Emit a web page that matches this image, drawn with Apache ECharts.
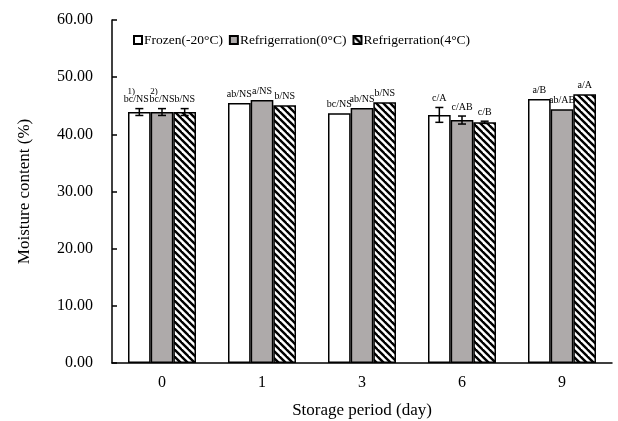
<!DOCTYPE html>
<html><head><meta charset="utf-8">
<script src="https://cdn.jsdelivr.net/npm/echarts@6/dist/echarts.min.js"></script>
<style>html,body{margin:0;padding:0;background:#fff}#c{width:618px;height:421px}</style>
</head><body><div id="c"></div>
<script>
const categories = ['0','1','3','6','9'];
const seriesNames = ['Frozen(-20°C)','Refrigerration(0°C)','Refrigerration(4°C)'];
const frozen = [43.9,45.5,43.7,43.4,46.2];
const ref0   = [43.9,46.0,44.6,42.5,44.4];
const ref4   = [43.9,45.1,45.6,42.1,47.0];
const frozenErr = [0.6,0,0,1.3,0];
const ref0Err   = [0.6,0,0,0.7,0];
const ref4Err   = [0.6,0,0,0.2,0];
const frozenLbl = ['bc/NS','ab/NS','bc/NS','c/A','a/B'];
const ref0Lbl   = ['bc/NS','a/NS','ab/NS','c/AB','ab/AB'];
const ref4Lbl   = ['b/NS','b/NS','b/NS','c/B','a/A'];
const frozenNote = ['1)','','','',''];
const ref0Note   = ['2)','','','',''];
const ref4Note   = ['','','','',''];
const yTicks = [0,10,20,30,40,50,60];

const FONT = '"Liberation Serif","Times New Roman",serif';
const GAP = 0.32;

function hatch(){
  const c = document.createElement('canvas');
  c.width = 7; c.height = 7;
  const g = c.getContext('2d');
  g.fillStyle = '#fff'; g.fillRect(0,0,7,7);
  g.strokeStyle = '#000'; g.lineWidth = 2.4;
  for (const o of [-7,0,7]) { g.beginPath(); g.moveTo(o-1,-1); g.lineTo(o+8,8); g.stroke(); }
  return c;
}

const vals = [frozen, ref0, ref4];
const errs = [frozenErr, ref0Err, ref4Err];
const lbls = [frozenLbl, ref0Lbl, ref4Lbl];
const notes = [frozenNote, ref0Note, ref4Note];
const fills = ['#ffffff', '#aeaaaa', {image: hatch(), repeat: 'repeat'}];

const custData = [];
for (let s=0;s<3;s++) for (let i=0;i<categories.length;i++)
  custData.push([i, vals[s][i], s, errs[s][i], lbls[s][i], notes[s][i]]);

const series = seriesNames.map((n,s)=>({
  name: n, type: 'bar', data: vals[s],
  barGap: '0%', barCategoryGap: (GAP*100)+'%',
  itemStyle: {color: fills[s], borderColor: '#000', borderWidth: 1.5},
  emphasis: {disabled: true}
}));
series.push({
  type: 'custom', silent: true, z: 10,
  encode: {x: 0, y: 1},
  data: custData,
  renderItem: function(params, api){
    const cat = api.value(0), v = api.value(1), s = api.value(2), e = api.value(3);
    const lbl = custData[params.dataIndex][4], note = custData[params.dataIndex][5];
    const band = api.size([1,0])[0];
    const bw = band*(1-GAP)/3;
    const off = (s-1)*bw;
    const pTop = api.coord([cat, v+e]);
    const pBot = api.coord([cat, v-e]);
    const x = pTop[0]+off;
    const ch = [];
    const st = {stroke:'#000', lineWidth:1.5};
    if (e>0){
      ch.push({type:'line', shape:{x1:x,y1:pTop[1],x2:x,y2:pBot[1]}, style:st});
      ch.push({type:'line', shape:{x1:x-4,y1:pTop[1],x2:x+4,y2:pTop[1]}, style:st});
      ch.push({type:'line', shape:{x1:x-4,y1:pBot[1],x2:x+4,y2:pBot[1]}, style:st});
    }
    const ty = pTop[1]-4;
    const lx = (s===0 && note) ? x-3 : x;
    ch.push({type:'text', style:{text:lbl, x:lx, y:ty, align:'center', verticalAlign:'bottom',
      font:'10px '+FONT, fill:'#000'}});
    if (note){
      ch.push({type:'text', style:{text:note, x:x-8, y:ty-8, align:'center', verticalAlign:'bottom',
        font:'9px '+FONT, fill:'#000'}});
    }
    return {type:'group', children: ch};
  }
});

const chart = echarts.init(document.getElementById('c'), null, {renderer:'canvas'});
chart.setOption({
  animation: false,
  backgroundColor: '#fff',
  textStyle: {fontFamily: FONT, color:'#000'},
  legend: {
    data: seriesNames, left: 128, top: 28, itemWidth: 8, itemHeight: 8, itemGap: 6,
    icon: 'rect',
    textStyle: {fontFamily: FONT, fontSize: 13.5, color:'#000', padding:[0,0,0,-3]}
  },
  grid: {left: 112, right: 6, top: 20, bottom: 58, outerBoundsMode: 'none', containLabel: false},
  xAxis: {
    type: 'category', data: categories,
    name: 'Storage period (day)', nameLocation: 'middle', nameGap: 39,
    nameTextStyle: {fontFamily: FONT, fontSize: 17, color:'#000'},
    axisLine: {lineStyle: {color:'#000', width: 1.5}},
    axisTick: {inside: true, length: 4, lineStyle:{color:'#000', width:1.5}},
    axisLabel: {fontFamily: FONT, fontSize: 16, color:'#000', margin: 12}
  },
  yAxis: {
    type: 'value', min: yTicks[0], max: yTicks[yTicks.length-1], interval: 10,
    name: 'Moisture content (%)', nameLocation: 'middle', nameGap: 79,
    nameTextStyle: {fontFamily: FONT, fontSize: 17, color:'#000'},
    axisLine: {show: true, lineStyle: {color:'#000', width: 1.5}},
    axisTick: {show: true, inside: true, length: 5, lineStyle:{color:'#000', width:1.5}},
    splitLine: {show: false},
    axisLabel: {fontFamily: FONT, fontSize: 16, color:'#000', margin: 19,
      formatter: v => v.toFixed(2)}
  },
  series: series
});
</script></body></html>
